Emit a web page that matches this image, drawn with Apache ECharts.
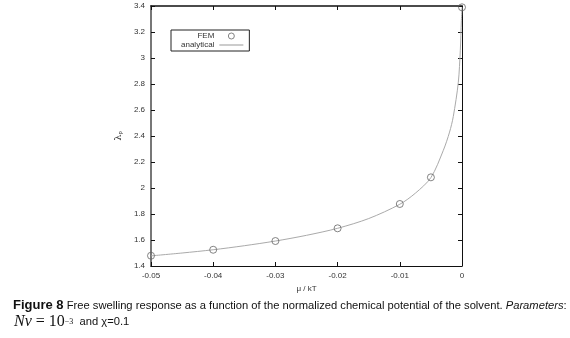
<!DOCTYPE html>
<html>
<head>
<meta charset="utf-8">
<script src="https://cdn.jsdelivr.net/npm/echarts@6/dist/echarts.min.js"></script>
<style>
  html, body { margin: 0; padding: 0; background: #fff; }
  #container { width: 570px; height: 338px; }
</style>
</head>
<body>
<div id="container"></div>
<script>
// FEM points (circles)
var femX = [-0.05, -0.04, -0.03, -0.02, -0.01, -0.005, 0];
var femY = [1.479, 1.525, 1.592, 1.69, 1.877, 2.082, 3.39];
// analytical curve
var anaX = [-0.05, -0.045, -0.04, -0.035, -0.03, -0.025, -0.02, -0.015, -0.01, -0.0075, -0.005, -0.003, -0.002, -0.0014, -0.0006, -0.00027, -0.0001, 0];
var anaY = [1.478, 1.50, 1.525, 1.556, 1.592, 1.636, 1.69, 1.765, 1.875, 1.96, 2.08, 2.29, 2.43, 2.55, 2.81, 3.06, 3.29, 3.39];

var chart = echarts.init(document.getElementById('container'));

function pairs(xs, ys) {
  return xs.map(function (x, i) { return [x, ys[i]]; });
}

var tickFont = { color: '#333', fontSize: 8, fontFamily: 'Liberation Sans, Arial, sans-serif' };

var option = {
  backgroundColor: '#fff',
  animation: false,
  grid: { left: 151, right: 108, top: 6, bottom: 72 },
  legend: {
    left: 171,
    top: 30,
    orient: 'vertical',
    align: 'right',
    itemGap: 1,
    itemWidth: 24,
    itemHeight: 6,
    padding: [2, 6, 2, 10],
    borderColor: '#222',
    borderWidth: 1,
    textStyle: tickFont,
    data: [
      { name: 'FEM', icon: 'circle', itemStyle: { color: 'rgba(0,0,0,0)', borderColor: '#666', borderWidth: 1 } },
      { name: 'analytical', icon: 'path://M0,0L20,0L20,1L0,1Z', itemStyle: { color: '#aaa' } }
    ]
  },
  xAxis: [{
    type: 'value',
    min: -0.05,
    max: 0,
    interval: 0.01,
    name: 'μ / kT',
    nameLocation: 'middle',
    nameGap: 19,
    nameTextStyle: tickFont,
    axisLine: { show: true, onZero: false, lineStyle: { color: '#111', width: 1 } },
    axisTick: { show: true, inside: true, length: 4, lineStyle: { color: '#111' } },
    axisLabel: {
      margin: 6,
      color: '#333', fontSize: 8, fontFamily: 'Liberation Sans, Arial, sans-serif',
      formatter: function (v) { return Math.abs(v) < 1e-9 ? '0' : v.toFixed(2); }
    },
    splitLine: { show: false }
  }, {
    type: 'value',
    position: 'top',
    min: -0.05,
    max: 0,
    interval: 0.01,
    axisLine: { show: true, onZero: false, lineStyle: { color: '#111', width: 1.5 } },
    axisTick: { show: true, inside: true, length: 4, lineStyle: { color: '#111' } },
    axisLabel: { show: false },
    splitLine: { show: false }
  }],
  yAxis: [{
    type: 'value',
    min: 1.4,
    max: 3.4,
    interval: 0.2,
    name: '{a|λ}{b|p}',
    nameLocation: 'middle',
    nameGap: 28,
    nameRotate: 90,
    nameTextStyle: {
      rich: {
        a: { fontSize: 10, color: '#333', fontFamily: 'DejaVu Serif, serif' },
        b: { fontSize: 6, color: '#333', verticalAlign: 'bottom' }
      }
    },
    axisLine: { show: true, onZero: false, lineStyle: { color: '#777', width: 2 } },
    axisTick: { show: true, inside: true, length: 4, lineStyle: { color: '#111' } },
    axisLabel: {
      margin: 6,
      color: '#333', fontSize: 8, fontFamily: 'Liberation Sans, Arial, sans-serif',
      formatter: function (v) { return String(parseFloat(v.toFixed(1))); }
    },
    splitLine: { show: false }
  }, {
    type: 'value',
    position: 'right',
    min: 1.4,
    max: 3.4,
    interval: 0.2,
    axisLine: { show: true, onZero: false, lineStyle: { color: '#111', width: 1 } },
    axisTick: { show: true, inside: true, length: 4, lineStyle: { color: '#111' } },
    axisLabel: { show: false },
    splitLine: { show: false }
  }],
  series: [{
    name: 'FEM',
    type: 'scatter',
    symbol: 'circle',
    symbolSize: 7,
    itemStyle: { color: 'rgba(0,0,0,0)', borderColor: '#666', borderWidth: 1 },
    data: pairs(femX, femY),
    z: 3
  }, {
    name: 'analytical',
    type: 'line',
    smooth: 0.3,
    showSymbol: false,
    symbol: 'none',
    lineStyle: { color: '#aaa', width: 1 },
    itemStyle: { color: '#aaa' },
    data: pairs(anaX, anaY),
    z: 2
  }],
  graphic: [{
    type: 'text',
    left: 13,
    top: 299,
    style: {
      text: '{b|Figure 8} Free swelling response as a function of the normalized chemical potential of the solvent. {i|Parameters}:',
      font: '11.2px "Liberation Sans", Arial, sans-serif',
      fill: '#111',
      rich: {
        b: { fontWeight: 'bold', fontSize: 13, fill: '#111', fontFamily: 'Liberation Sans, Arial, sans-serif' },
        i: { fontStyle: 'italic', fontSize: 11.2, fill: '#111', fontFamily: 'Liberation Sans, Arial, sans-serif' }
      }
    }
  }, {
    type: 'text',
    left: 14,
    top: 314,
    style: {
      text: '{n|Nv}{e| = 10}{s|−3}{t|  and χ=0.1}',
      fill: '#111',
      rich: {
        n: { fontStyle: 'italic', fontSize: 16, fill: '#111', fontFamily: 'Liberation Serif, Times New Roman, serif' },
        e: { fontSize: 16, fill: '#111', fontFamily: 'Liberation Serif, Times New Roman, serif' },
        s: { fontSize: 8, fill: '#111', fontFamily: 'Liberation Serif, serif', verticalAlign: 'middle' },
        t: { fontSize: 11.2, fill: '#111', fontFamily: 'Liberation Sans, Arial, sans-serif' }
      }
    }
  }]
};

chart.setOption(option);
</script>
</body>
</html>
